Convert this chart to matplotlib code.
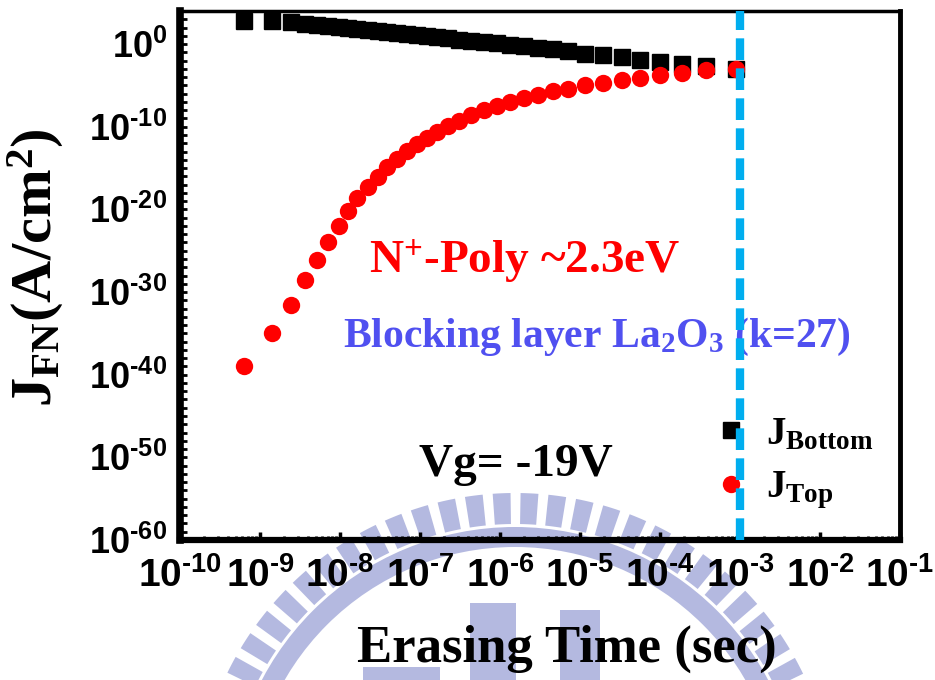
import numpy as np
import matplotlib
matplotlib.use("Agg")
import matplotlib.pyplot as plt
from matplotlib.ticker import FixedLocator, FuncFormatter, NullFormatter
from matplotlib.patches import Wedge, Rectangle
from matplotlib.lines import Line2D

# Erasing time (s) and FN current densities (A/cm^2) at Vg = -19 V
time_s = [6.35e-10, 1.43e-9, 2.43e-9, 3.64e-9, 5.19e-9, 7.13e-9, 9.59e-9,
          1.27e-8, 1.65e-8, 2.24e-8, 2.96e-8, 3.89e-8, 5.19e-8, 6.93e-8,
          9.25e-8, 1.24e-7, 1.65e-7, 2.26e-7, 3.10e-7, 4.32e-7, 6.34e-7,
          9.14e-7, 1.34e-6, 2.01e-6, 3.01e-6, 4.61e-6, 7.18e-6, 1.17e-5,
          1.94e-5, 3.32e-5, 5.69e-5, 1.01e-4, 1.90e-4, 3.76e-4, 8.93e-4]

j_bottom = [692, 692, 457, 302, 214, 155, 115, 85.1, 67.6, 49.0, 37.2,
            28.2, 21.4, 15.8, 12.0, 8.71, 6.61, 4.90, 3.47, 2.51, 1.70,
            1.17, 0.794, 0.537, 0.355, 0.234, 0.148, 0.0708, 0.0479,
            0.0251, 0.0135, 6.92e-3, 4.37e-3, 2.51e-3, 1.02e-3]

j_top = [1.20e-39, 1.17e-35, 2.63e-32, 2.51e-29, 7.76e-27, 1.17e-24,
         1.07e-22, 6.03e-21, 2.24e-19, 5.25e-18, 7.76e-17, 1.17e-15,
         1.17e-14, 1.10e-13, 8.32e-13, 4.90e-12, 2.63e-11, 1.26e-10,
         5.62e-10, 2.45e-9, 1.00e-8, 3.02e-8, 1.00e-7, 3.02e-7, 7.76e-7,
         1.95e-6, 4.17e-6, 1.05e-5, 2.00e-5, 4.17e-5, 7.94e-5, 1.70e-4,
         3.55e-4, 6.76e-4, 1.10e-3]

erase_time = 1e-3

x_exponents = list(range(-10, 0))
y_exponents = list(range(-60, 1, 10))

plt.rcParams.update({
    "mathtext.fontset": "custom",
    "mathtext.rm": "Liberation Serif:bold",
    "mathtext.bf": "Liberation Serif:bold",
    "mathtext.it": "Liberation Serif:bold",
    "mathtext.sf": "Liberation Sans:bold",
    "mathtext.default": "rm",
    "font.family": "Liberation Serif",
    "font.weight": "bold",
})

W, H = 935, 680
fig = plt.figure(figsize=(W / 100, H / 100), dpi=100)

# faint emblem behind the plot
wm = "#b4b9e0"
bg = fig.add_axes([0, 0, 1, 1], zorder=0)
bg.set_xlim(0, W)
bg.set_ylim(H, 0)
bg.axis("off")
cx, cy = 515, 813
for a in np.arange(181, 360, 5.0):
    bg.add_patch(Wedge((cx, cy), 320, a, a + 3.2, width=31, color=wm, lw=0))
bg.add_patch(Wedge((cx, cy), 286, 180, 360, width=20, color=wm, lw=0))
for (x0, y0, w, h) in ((470, 603, 46, 80), (560, 610, 40, 75),
                       (363, 667, 77, 15)):
    bg.add_patch(Rectangle((x0, y0), w, h, color=wm, lw=0))


def exp_label(v, pos):
    e = int(round(np.log10(v)))
    s = str(e).replace("-", "\u2010")
    return r"$\mathsf{10^{%s}}$" % s


ax = fig.add_axes([180 / W, 140 / H, 720 / W, 529 / H], zorder=1)
ax.set_facecolor("none")
ax.set_xscale("log")
ax.set_yscale("log")
ax.set_xlim(1e-10, 1e-1)
ax.set_ylim(1e-60, 1e4)

ax.plot(time_s, j_bottom, ls="none", marker="s", ms=11, color="black",
        zorder=3)
ax.plot(time_s, j_top, ls="none", marker="o", ms=12.5, color="#ff0000",
        mec="none", zorder=4)
ax.axvline(erase_time, color="#00aeef", lw=6, ls=(0, (2.6, 1.0)), zorder=6)

# ticks
ax.xaxis.set_major_locator(FixedLocator([10.0 ** e for e in x_exponents]))
ax.xaxis.set_minor_locator(FixedLocator(
    [m * 10.0 ** e for e in x_exponents[:-1] for m in range(2, 10)]))
ax.yaxis.set_major_locator(FixedLocator([10.0 ** e for e in y_exponents]))
ax.yaxis.set_minor_locator(FixedLocator(
    [10.0 ** e for e in range(-60, 5)]))
fmt = FuncFormatter(exp_label)
ax.xaxis.set_major_formatter(fmt)
ax.yaxis.set_major_formatter(fmt)
ax.xaxis.set_minor_formatter(NullFormatter())
ax.yaxis.set_minor_formatter(NullFormatter())
ax.tick_params(axis="x", which="major", direction="in", length=6, width=2.5,
               labelsize=28, pad=13, top=False)
ax.tick_params(axis="x", which="minor", direction="in", length=3, width=2,
               top=False)
ax.tick_params(axis="y", which="both", direction="in", length=5, width=2,
               labelsize=26, pad=9, right=False)

for side, lw in (("left", 5.5), ("bottom", 4.5), ("right", 3.5), ("top", 2.5)):
    ax.spines[side].set_linewidth(lw)
    ax.spines[side].set_color("black")

ax.set_xlabel("Erasing Time (sec)", fontsize=38, fontweight="bold")
ax.xaxis.set_label_coords(0.5375, -0.2306)
ax.xaxis.label.set_va("baseline")

ax.set_ylabel(r"J$_{\mathrm{FN}}$(A/cm$^{2}$)", fontsize=42,
              fontweight="bold")
ax.yaxis.set_label_coords(-0.2, 0.515)
ax.yaxis.label.set_va("center")

# annotations
ax.text(0.2625, 0.5047, r"N$^{+}$-Poly ~2.3eV", transform=ax.transAxes,
        fontsize=34, color="#ff0000", va="baseline", ha="left")
ax.text(0.2264, 0.3648, r"Blocking layer La$_{2}$O$_{3}$ (k=27)",
        transform=ax.transAxes, fontsize=30, color="#5050f0",
        va="baseline", ha="left")
ax.text(0.332, 0.121, "Vg= -19V", transform=ax.transAxes, fontsize=34,
        color="black", va="baseline", ha="left")

handles = [Line2D([], [], ls="none", marker="s", ms=11, color="black"),
           Line2D([], [], ls="none", marker="o", ms=12.5, color="#ff0000",
                  mec="none")]
leg = ax.legend(handles, [r"J$_{\mathrm{Bottom}}$", r"J$_{\mathrm{Top}}$"],
                loc="upper left", bbox_to_anchor=(0.711, 0.271), frameon=False,
                fontsize=28, borderpad=0, handlelength=1.0,
                handletextpad=0.4, labelspacing=0.42)
leg.set_zorder(5)

fig.savefig("out.png", dpi=100)
